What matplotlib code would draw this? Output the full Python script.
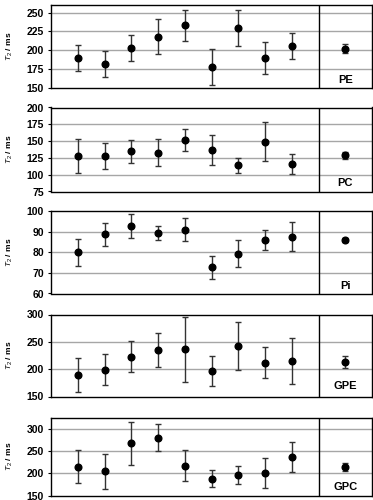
import matplotlib
matplotlib.use("Agg")
import matplotlib.pyplot as plt
import matplotlib.transforms as mtransforms

plt.rcParams['font.family'] = ['Liberation Sans', 'DejaVu Sans']
plt.rcParams['mathtext.fontset'] = 'custom'
plt.rcParams['mathtext.it'] = 'Liberation Sans:italic'
plt.rcParams['mathtext.rm'] = 'Liberation Sans'

# ---- data ----
samples = [1, 2, 3, 4, 5, 6, 7, 8, 9]
mean_pos = 11
divider_pos = 10

names = ["PE", "PC", "Pi", "GPE", "GPC"]

pe_vals = [190, 182, 203, 218, 233, 178, 229, 190, 206]
pe_errs = [17, 17, 17, 23, 21, 24, 24, 21, 17]
pe_mean, pe_mean_err = 202, 6

pc_vals = [128, 128, 135, 133, 152, 137, 114, 149, 116]
pc_errs = [25, 19, 17, 20, 16, 22, 11, 29, 15]
pc_mean, pc_mean_err = 129, 5

pi_vals = [80.0, 88.8, 92.8, 89.5, 91.2, 72.8, 79.4, 86.0, 87.6]
pi_errs = [6.4, 5.7, 5.8, 3.5, 5.7, 5.6, 6.5, 4.8, 7.1]
pi_mean, pi_mean_err = 86.3, 1.0

gpe_vals = [189, 199, 223, 235, 236, 197, 243, 212, 215]
gpe_errs = [31, 28, 28, 31, 60, 27, 44, 29, 42]
gpe_mean, gpe_mean_err = 213, 11

gpc_vals = [215, 204, 267, 280, 217, 188, 196, 201, 236]
gpc_errs = [37, 39, 49, 30, 34, 20, 20, 34, 34]
gpc_mean, gpc_mean_err = 213, 9

yticks = [
    [150, 175, 200, 225, 250],
    [75, 100, 125, 150, 175, 200],
    [60, 70, 80, 90, 100],
    [150, 200, 250, 300],
    [150, 200, 250, 300],
]
ylims = [(150, 260), (75, 200), (60, 100), (150, 300), (150, 325)]

series = [
    (pe_vals, pe_errs, pe_mean, pe_mean_err),
    (pc_vals, pc_errs, pc_mean, pc_mean_err),
    (pi_vals, pi_errs, pi_mean, pi_mean_err),
    (gpe_vals, gpe_errs, gpe_mean, gpe_mean_err),
    (gpc_vals, gpc_errs, gpc_mean, gpc_mean_err),
]

# ---- layout (pixels from top) ----
W, H = 373, 500
left_px, right_px = 51, 372
panels_px = [(5, 88), (107.5, 191.5), (211.5, 293.5), (314.5, 396.5), (417.5, 495.5)]
label_y = [0.10, 0.10, 0.09, 0.13, 0.11]

fig = plt.figure(figsize=(W / 100, H / 100), dpi=100)

for i, (name, (vals, errs, m, me)) in enumerate(zip(names, series)):
    top, bot = panels_px[i]
    ax = fig.add_axes([left_px / W, 1 - bot / H, (right_px - left_px) / W, (bot - top) / H])
    ax.set_xlim(0, 12)
    ax.set_ylim(*ylims[i])
    ax.set_yticks(yticks[i])
    ax.set_xticks([])
    for t in yticks[i]:
        if ylims[i][0] < t < ylims[i][1]:
            ax.axhline(t, color='#a6a6a6', lw=1.0, zorder=1)
    ax.axvline(divider_pos, color='black', lw=1.0, zorder=2)
    ax.errorbar(samples, vals, yerr=errs, fmt='o', color='black', ms=4.8,
                ecolor='#333333', elinewidth=1.0, capsize=2, capthick=1.0, zorder=3)
    ax.errorbar([mean_pos], [m], yerr=[me], fmt='o', color='black', ms=4.8,
                ecolor='#333333', elinewidth=1.0, capsize=2, capthick=1.0, zorder=3)
    for s in ax.spines.values():
        s.set_linewidth(1.0)
        s.set_color('black')
    ax.tick_params(axis='y', length=2, width=0.8, pad=3, labelsize=7.5)
    for lab in ax.get_yticklabels():
        lab.set_fontweight('bold')
    trans = mtransforms.blended_transform_factory(ax.transData, ax.transAxes)
    ax.text(mean_pos, label_y[i], name, transform=trans, ha='center', va='center',
            fontsize=8, fontweight='bold')
    ax.set_ylabel(r'$T_2$ / ms', fontsize=6, fontweight='bold')
    ax.yaxis.set_label_coords(-0.112, 0.5)

fig.savefig('out.png', dpi=100)
